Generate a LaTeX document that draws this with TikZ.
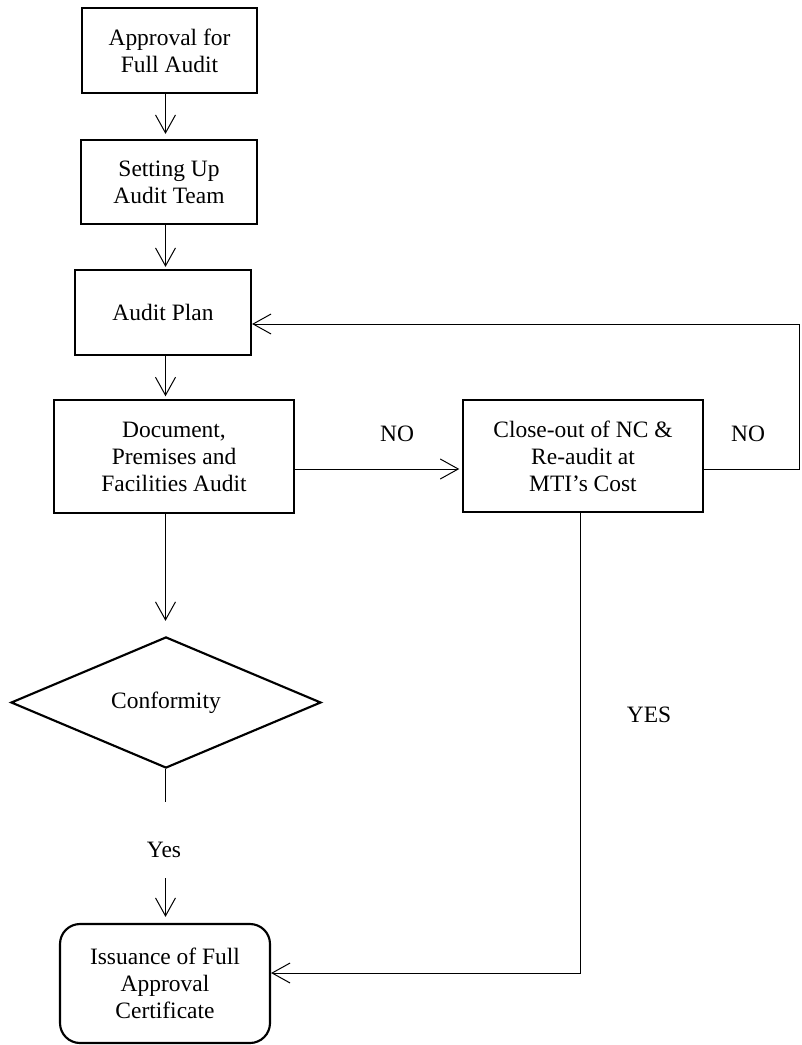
\documentclass[tikz,border=0pt]{standalone}
\usepackage{fontspec}
\setmainfont{Liberation Serif}
\usetikzlibrary{arrows.meta,shapes.geometric}

\tikzset{every picture/.style={line width=0.75pt}}
\tikzset{
	stepbox/.style={draw, line width=1.6pt, align=center, inner sep=2pt},
	decbox/.style={draw, diamond, line width=1.6pt, align=center, inner sep=0pt},
	endbox/.style={draw, rounded corners=15pt, line width=1.6pt, align=center},
	flow/.style={-{Straight Barb[length=13.5pt,width=15pt]}},
	lbl/.style={inner sep=0pt}
}

\begin{document}
\begin{tikzpicture}[x=0.75pt,y=0.75pt,yscale=-1,xscale=1,font=\fontsize{17.6}{20.3}\selectfont]
	\useasboundingbox (0,0) rectangle (801,1045);

	%Shape: Rectangle [approval]
	\node[stepbox, minimum width=131.25pt, minimum height=63.75pt] (approval) at (169.5,50.5) {Approval for\\Full Audit};
	%Shape: Rectangle [team]
	\node[stepbox, minimum width=132pt, minimum height=63pt] (team) at (169,182) {Setting Up\\Audit Team};
	%Shape: Rectangle [plan]
	\node[stepbox, minimum width=132pt, minimum height=63.75pt] (plan) at (163,312.5) {Audit Plan};
	%Shape: Rectangle [docaudit]
	\node[stepbox, minimum width=180pt, minimum height=84.75pt] (docaudit) at (174,456.5) {Document,\\Premises and\\Facilities Audit};
	%Shape: Rectangle [closeout]
	\node[stepbox, minimum width=180pt, minimum height=84pt] (closeout) at (583,456) {Close-out of NC \&\\Re-audit at\\MTI’s Cost};
	%Shape: Diamond [conform]
	\node[decbox, minimum width=232.5pt, minimum height=83.25pt] (conform) at (166,702.5) {Conformity};
	%Shape: Rounded Rect [issue]
	\node[endbox, minimum width=157.5pt, minimum height=89.25pt] (issue) at (165,983.5) {Issuance of Full\\Approval\\Certificate};

	% bend points
	\coordinate (spine) at (165.5,0);
	\coordinate (nolvl) at (0,469);
	\coordinate (loopc) at (799,324);
	\coordinate (yesx) at (580,973);
	\coordinate (yesend) at (165.5,802);
	\coordinate (yesstart) at (165.5,878);

	%Straight Lines
	\draw[flow, shorten >=3.75pt] (approval.south -| spine) -- (team.north -| spine);
	%Straight Lines
	\draw[flow, shorten >=1.5pt] (team.south -| spine) -- (plan.north -| spine);
	%Straight Lines
	\draw[flow, shorten >=2pt] (plan.south -| spine) -- (docaudit.north -| spine);
	%Straight Lines
	\draw[flow, shorten >=11.25pt] (docaudit.south -| spine) -- (conform.north -| spine);
	%Straight Lines
	\draw (conform.south -| spine) -- (yesend);
	%Straight Lines
	\draw[flow, shorten >=4.5pt] (yesstart) -- (issue.north -| yesstart);
	%Straight Lines
	\draw[flow, shorten >=2pt] (docaudit.east |- nolvl) -- (closeout.west |- nolvl);
	%Straight Lines
	\draw[flow] (closeout.east |- nolvl) -| (loopc) -- (plan.east |- loopc);
	%Straight Lines
	\draw[flow] (closeout.south -| yesx) |- (issue.east |- yesx);

	% Text Node
	\node[lbl] (nolbl) at (397,434) {NO};
	% Text Node
	\node[lbl] (noback) at (748,434) {NO};
	% Text Node
	\node[lbl] (yeslbl) at (649,715) {YES};
	% Text Node
	\node[lbl] (yesdown) at (164,850) {Yes};

\end{tikzpicture}
\end{document}
